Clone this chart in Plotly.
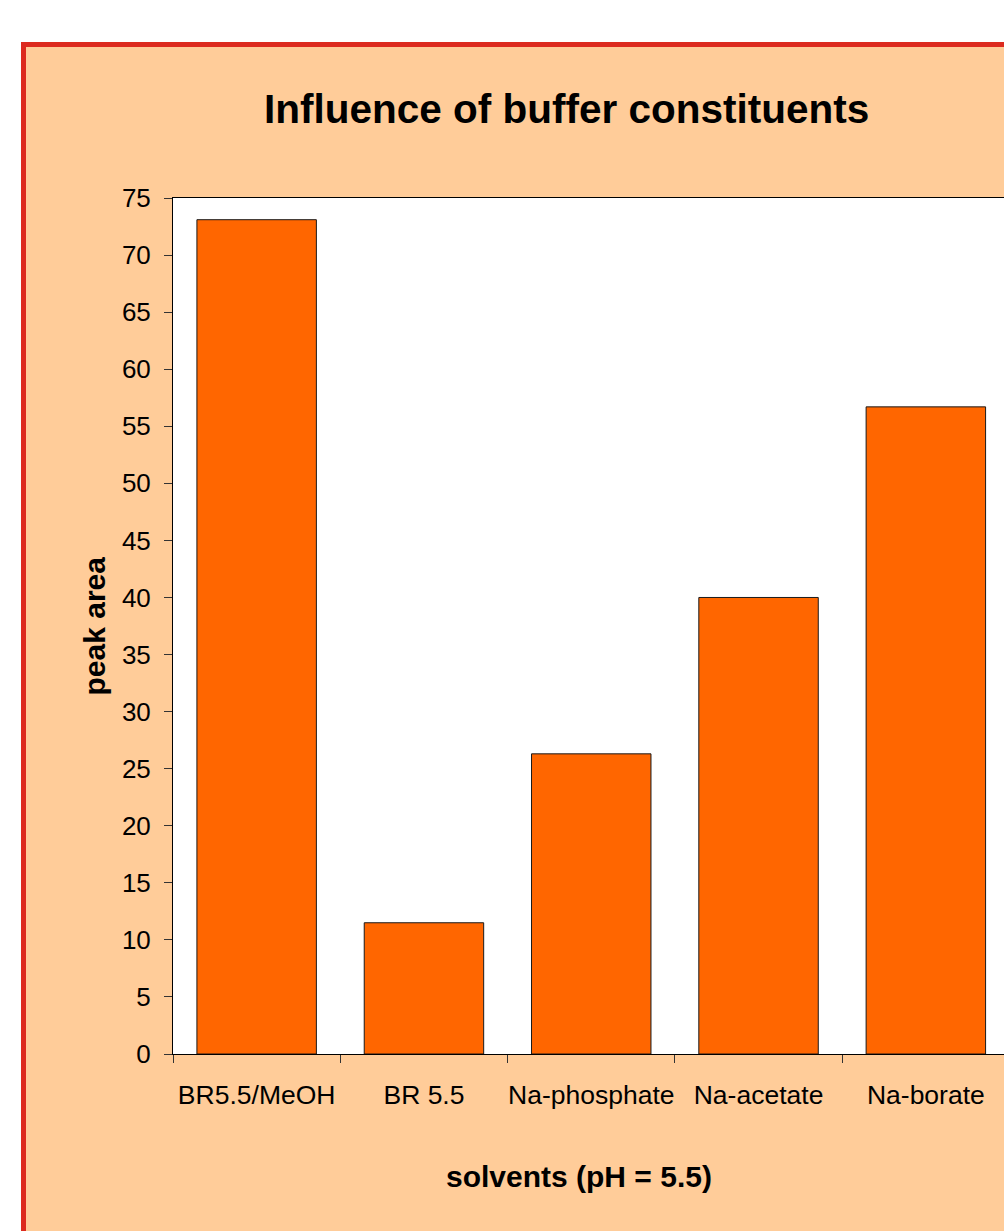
import plotly.graph_objects as go

# Peak area measured for each buffer system at pH 5.5
categories = ["BR5.5/MeOH", "BR 5.5", "Na-phosphate", "Na-acetate", "Na-borate"]
peak_area = [73.1, 11.5, 26.3, 40.0, 56.7]
y_ticks = list(range(0, 80, 5))

W, H = 1004, 1231
L, R, T, B = 173, 0, 198, 177
PW = W - L - R
PH = H - T - B
CAT_PX = 167.3  # width of one category slot in pixels


def px_x(px):
    return (px - L) / PW


def px_y(py):
    return (H - B - py) / PH


FONT = "Arial, 'Liberation Sans', sans-serif"

fig = go.Figure(
    go.Bar(
        x=categories,
        y=peak_area,
        marker=dict(color="#FF6600", line=dict(color="#1a1a1a", width=1)),
        width=0.714,
        showlegend=False,
    )
)

fig.update_layout(
    width=W,
    height=H,
    margin=dict(l=L, r=R, t=T, b=B, pad=0, autoexpand=False),
    paper_bgcolor="white",
    plot_bgcolor="rgba(0,0,0,0)",
    font=dict(family=FONT, color="black"),
    shapes=[
        # chart area frame
        dict(type="rect", xref="paper", yref="paper", layer="below",
             x0=px_x(23.5), x1=px_x(1150), y0=px_y(44.5), y1=px_y(1350),
             fillcolor="#FFCC99", line=dict(color="#DC2A1F", width=5)),
        # plot area fill
        dict(type="rect", xref="paper", yref="paper", layer="below",
             x0=0, x1=1, y0=0, y1=1, fillcolor="white", line=dict(width=0)),
    ],
    annotations=[
        dict(text="<b>Influence of buffer constituents</b>", xref="paper", yref="paper",
             x=px_x(566.5), y=px_y(109), xanchor="center", yanchor="middle",
             showarrow=False, font=dict(size=40.5, family=FONT, color="black")),
        dict(text="<b>peak area</b>", xref="paper", yref="paper",
             x=px_x(94), y=px_y(626.5), xanchor="center", yanchor="middle",
             textangle=-90, showarrow=False, font=dict(size=30, family=FONT, color="black")),
        dict(text="<b>solvents (pH = 5.5)</b>", xref="paper", yref="paper",
             x=px_x(579), y=px_y(1176), xanchor="center", yanchor="middle",
             showarrow=False, font=dict(size=30, family=FONT, color="black")),
    ],
)

fig.update_xaxes(
    type="category",
    range=[-0.5, -0.5 + PW / CAT_PX],
    automargin=False,
    showline=True, linecolor="black", linewidth=1, mirror=True,
    ticks="outside", tickson="boundaries", ticklen=8, tickcolor="#333",
    tickangle=0, ticklabelstandoff=17,
    tickfont=dict(size=26.5, family=FONT, color="black"),
    showgrid=False, zeroline=False, fixedrange=True,
)
fig.update_yaxes(
    range=[0, 75],
    tickvals=y_ticks,
    automargin=False,
    showline=True, linecolor="black", linewidth=1, mirror=False,
    ticks="outside", ticklen=8, tickcolor="#333",
    ticklabelstandoff=8,
    tickfont=dict(size=26, family=FONT, color="black"),
    showgrid=False, zeroline=False, fixedrange=True,
)

fig.write_html("out.html", config={"displayModeBar": False})
